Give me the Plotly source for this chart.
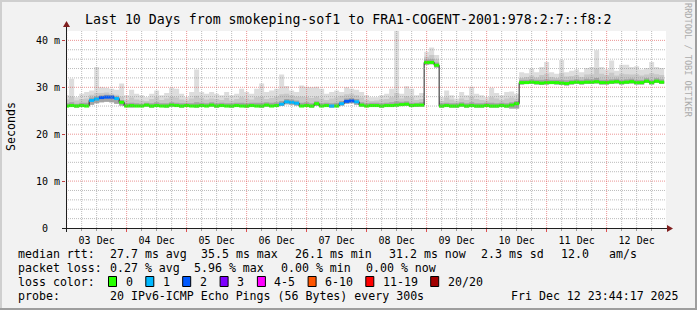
import pandas as pd
import plotly.graph_objects as go

# ---------------- data (ms), 2-hour consolidated steps ----------------
SAMPLE_START = "2025-12-02 23:00:00"
STEP = "2h"
RANGE_START = "2025-12-02 23:44:17"
RANGE_END = "2025-12-12 23:44:17"

median_ms = [
    26.0, 26.1, 26.0, 26.1, 26.0, 27.2, 27.5, 27.8, 27.9, 27.9, 27.6, 26.8,
    26.0, 26.1, 26.0, 26.0, 26.2, 26.0, 26.1, 26.0, 26.0, 26.2, 26.1, 26.0,
    26.1, 26.0, 26.0, 26.1, 26.0, 26.2, 26.0, 26.1, 26.0, 26.0, 26.1, 26.0,
    26.0, 26.1, 26.0, 26.0, 26.2, 26.0, 26.1, 26.4, 26.9, 26.8, 26.6, 26.0,
    26.1, 26.0, 26.5, 26.0, 26.1, 26.0, 26.0, 26.5, 27.0, 27.1, 26.9, 26.2,
    26.0, 26.1, 26.1, 26.0, 26.1, 26.1, 26.2, 26.3, 26.4, 26.1, 26.2, 26.2,
    35.3, 35.3, 34.7, 26.0, 26.1, 26.0, 26.0, 26.2, 26.0, 26.1, 26.0, 26.0,
    26.1, 26.0, 26.0, 26.1, 26.0, 26.2, 26.5, 31.0, 31.0, 31.1, 31.0, 30.9,
    31.0, 31.0, 31.0, 30.9, 30.8, 31.0, 31.1, 31.0, 31.1, 31.1, 31.2, 31.0,
    31.0, 31.1, 31.2, 31.0, 31.1, 31.2, 31.0, 31.0, 31.3, 31.0, 31.3, 31.1,
]

lost_pings = [
    0, 0, 0, 0, 0, 1, 1, 2, 2, 2, 1, 0,
    0, 0, 0, 0, 0, 0, 0, 0, 0, 0, 0, 0,
    0, 0, 0, 0, 0, 0, 0, 0, 0, 0, 0, 0,
    0, 0, 0, 0, 0, 0, 0, 1, 1, 1, 1, 0,
    0, 0, 0, 0, 0, 1, 0, 1, 2, 2, 1, 0,
    0, 0, 0, 0, 0, 0, 0, 0, 0, 0, 0, 0,
    0, 0, 0, 0, 0, 0, 0, 0, 0, 0, 0, 0,
    0, 0, 0, 0, 0, 0, 0, 0, 0, 0, 0, 0,
    0, 0, 0, 0, 0, 0, 0, 0, 0, 0, 0, 0,
    0, 0, 0, 0, 0, 0, 0, 0, 0, 0, 0, 0,
]

smoke_min = [
    25.8, 25.8, 25.7, 25.8, 25.8, 26.3, 26.6, 26.8, 26.9, 26.8, 26.5, 26.1,
    25.8, 25.7, 25.8, 25.8, 25.9, 25.7, 25.8, 25.8, 25.7, 25.9, 25.8, 25.7,
    25.8, 25.8, 25.7, 25.8, 25.8, 25.9, 25.7, 25.8, 25.8, 25.7, 25.8, 25.8,
    25.7, 25.8, 25.8, 25.7, 25.9, 25.8, 25.8, 26.0, 26.4, 26.3, 26.1, 25.8,
    25.8, 25.7, 26.0, 25.8, 25.8, 25.7, 25.8, 26.1, 26.5, 26.6, 26.3, 25.9,
    25.8, 25.8, 25.8, 25.7, 25.8, 25.8, 25.9, 26.0, 26.0, 25.8, 25.8, 25.9,
    34.8, 34.9, 34.2, 25.7, 25.8, 25.7, 25.7, 25.9, 25.7, 25.8, 25.7, 25.7,
    25.8, 25.7, 25.7, 25.8, 25.7, 25.5, 25.5, 30.6, 30.7, 30.7, 30.6, 30.5,
    30.6, 30.7, 30.6, 30.5, 30.4, 30.6, 30.7, 30.6, 30.7, 30.7, 30.8, 30.6,
    30.6, 30.7, 30.8, 30.6, 30.7, 30.8, 30.6, 30.6, 30.9, 30.6, 30.9, 30.7,
]

smoke_dark_top = [
    26.6, 26.8, 26.5, 26.7, 26.7, 27.8, 28.1, 28.3, 28.4, 28.3, 28.1, 27.3,
    26.6, 26.7, 26.6, 26.5, 26.7, 26.6, 26.8, 26.6, 26.6, 26.8, 26.7, 26.6,
    26.6, 26.6, 26.8, 26.7, 26.6, 26.8, 26.6, 26.7, 26.6, 26.6, 26.7, 26.7,
    26.6, 26.7, 26.7, 26.7, 26.8, 26.7, 26.8, 27.1, 27.5, 27.4, 27.2, 26.7,
    26.8, 26.6, 27.0, 26.6, 26.7, 26.6, 26.7, 27.1, 27.6, 27.7, 27.5, 26.8,
    26.6, 26.7, 26.7, 26.6, 26.7, 26.8, 27.0, 26.9, 27.0, 26.7, 26.7, 26.8,
    35.9, 36.0, 35.3, 26.6, 26.7, 26.6, 26.6, 26.8, 26.6, 26.8, 26.6, 26.6,
    26.7, 26.7, 26.6, 26.7, 26.6, 26.8, 27.1, 31.6, 31.6, 31.7, 31.6, 31.6,
    31.7, 31.6, 31.6, 31.6, 31.5, 31.6, 31.7, 31.6, 31.8, 31.7, 32.0, 31.6,
    31.6, 31.7, 31.8, 31.6, 31.7, 31.8, 31.6, 31.6, 31.9, 31.6, 31.9, 31.7,
]

smoke_mid_top = [
    27.4, 28.0, 27.2, 27.5, 27.6, 28.4, 28.8, 28.8, 28.9, 28.6, 28.4, 28.0,
    27.3, 27.8, 27.4, 27.2, 27.1, 27.5, 27.9, 27.3, 27.6, 28.0, 27.8, 27.4,
    27.2, 27.6, 28.2, 27.7, 27.4, 27.6, 27.5, 27.3, 27.7, 27.2, 27.5, 27.9,
    27.6, 27.4, 27.9, 28.0, 27.5, 27.7, 28.0, 28.5, 28.6, 28.3, 28.0, 28.0,
    27.9, 27.7, 28.0, 27.6, 27.3, 27.6, 27.8, 28.2, 28.5, 28.6, 28.3, 27.8,
    27.3, 27.1, 27.2, 27.4, 27.5, 27.9, 28.8, 27.6, 28.1, 27.8, 27.3, 27.5,
    36.5, 36.9, 36.0, 27.1, 27.8, 27.4, 27.0, 27.6, 27.3, 28.0, 27.5, 27.3,
    27.2, 27.9, 27.6, 27.3, 27.6, 27.8, 27.6, 32.0, 32.2, 32.5, 32.1, 32.6,
    32.9, 32.2, 32.0, 33.0, 32.3, 32.4, 32.6, 32.2, 32.7, 32.8, 34.0, 32.9,
    32.6, 33.1, 32.5, 32.9, 32.8, 32.7, 32.8, 32.5, 32.7, 33.0, 32.8, 32.6,
]

smoke_max = [
    28.3, 31.8, 27.9, 28.6, 29.0, 29.3, 34.3, 30.0, 29.9, 29.7, 29.5, 30.8,
    28.3, 29.5, 28.6, 28.3, 27.9, 28.6, 29.3, 28.3, 28.8, 29.9, 29.7, 28.6,
    27.9, 29.0, 33.8, 29.0, 28.6, 29.0, 28.6, 28.3, 29.0, 28.3, 28.6, 29.7,
    29.0, 28.6, 29.7, 30.8, 29.0, 29.3, 29.7, 32.7, 30.3, 29.3, 29.0, 30.4,
    30.1, 30.0, 30.1, 29.7, 28.6, 29.0, 29.3, 29.0, 30.0, 29.7, 29.5, 29.0,
    28.3, 27.9, 27.9, 28.3, 28.6, 29.7, 43.0, 28.6, 30.2, 29.7, 28.3, 28.8,
    37.6, 38.5, 36.9, 27.9, 29.3, 28.3, 27.6, 29.0, 28.3, 30.1, 28.6, 28.3,
    27.9, 29.9, 28.8, 28.3, 29.0, 29.1, 28.6, 33.2, 33.0, 34.0, 33.2, 34.3,
    35.4, 33.2, 32.9, 35.8, 33.2, 33.5, 33.8, 33.2, 34.1, 34.3, 37.9, 34.3,
    33.8, 35.7, 33.5, 34.8, 34.8, 34.3, 34.5, 33.8, 34.1, 35.4, 34.3, 34.1,
]

loss_labels = ["0", "1", "2", "3", "4-5", "6-10", "11-19", "20/20"]
loss_low = [0, 1, 2, 3, 4, 6, 11, 20]
loss_high = [0, 1, 2, 3, 5, 10, 19, 20]
loss_colors = ["#26FF00", "#00B8FF", "#0059FF", "#7E00FF",
               "#FF00FF", "#FF5500", "#FF0000", "#A10000"]

y_tickvals = [0, 10, 20, 30, 40]
y_ticktext = ["0\u00a0\u00a0", "10 m", "20 m", "30 m", "40 m"]

title_text = "Last 10 Days from smokeping-sof1 to FRA1-COGENT-2001:978:2:7::f8:2"
rtt_parts = ["median rtt:", "27.7 ms avg", "35.5 ms max", "26.1 ms min",
             "31.2 ms now", "2.3 ms sd", "12.0", "am/s"]
loss_parts = ["packet loss:", "0.27 % avg", "5.96 % max", "0.00 % min", "0.00 % now"]
probe_parts = ["probe:", "20 IPv6-ICMP Echo Pings (56 Bytes) every 300s"]
date_text = "Fri Dec 12 23:44:17 2025"

# ---------------- layout geometry (pixels) ----------------
W, H = 697, 310
L, R, T, B = 66, 31, 31, 82
PW, PH = W - L - R, H - T - B
BASE = H - B


def X(px):
    return (px - L) / PW


def Y(py):
    return (BASE - py) / PH


MONO = "DejaVu Sans Mono"

times = pd.date_range(SAMPLE_START, periods=len(median_ms) + 1, freq=STEP)


def stepped(v):
    return list(v) + [v[-1]]


fig = go.Figure()

# smoke layers
for top, col in [(smoke_max, "#DDDDDD"), (smoke_mid_top, "#C8C8C8"), (smoke_dark_top, "#A4A4A4")]:
    fig.add_trace(go.Scatter(x=times, y=stepped(smoke_min), mode="lines",
                             line=dict(width=0, shape="hv"), hoverinfo="skip", showlegend=False))
    fig.add_trace(go.Scatter(x=times, y=stepped(top), mode="lines", fill="tonexty",
                             fillcolor=col, line=dict(width=0, shape="hv"),
                             hoverinfo="skip", showlegend=False))

# black median line
fig.add_trace(go.Scatter(x=times, y=stepped(median_ms), mode="lines",
                         line=dict(width=1, color="#202020", shape="hv"),
                         hoverinfo="skip", showlegend=False))

# coloured median bands by loss bucket (horizontal only)
for lo, hi, col in zip(loss_low, loss_high, loss_colors):
    xs, ys = [], []
    for i, (m, lp) in enumerate(zip(median_ms, lost_pings)):
        if lo <= lp <= hi:
            xs += [times[i], times[i + 1], None]
            ys += [m, m, None]
    if xs:
        fig.add_trace(go.Scatter(x=xs, y=ys, mode="lines",
                                 line=dict(width=3, color=col),
                                 hoverinfo="skip", showlegend=False))

shapes = []
# grid (drawn on top like rrdtool)
for t in pd.date_range("2025-12-03 00:00", "2025-12-12 18:00", freq="6h"):
    major = t.hour == 0
    shapes.append(dict(type="line", xref="x", yref="paper", x0=t, x1=t, y0=0, y1=1,
                       layer="above",
                       line=dict(width=1, dash="1px,1px",
                                 color="rgba(222,79,79,0.6)" if major else "rgba(143,143,143,0.6)")))
for v in range(2, 42, 2):
    major = v % 10 == 0
    shapes.append(dict(type="line", xref="paper", yref="y", x0=0, x1=1, y0=v, y1=v,
                       layer="above",
                       line=dict(width=1, dash="1px,1px",
                                 color="rgba(222,79,79,0.6)" if major else "rgba(143,143,143,0.6)")))

# axes lines and arrows
AX = "#1F1F1F"
ARROW = "#801F1F"
shapes.append(dict(type="line", xref="paper", yref="paper", x0=X(62), x1=X(668),
                   y0=Y(228.5), y1=Y(228.5), layer="above", line=dict(width=1, color=AX)))
shapes.append(dict(type="line", xref="paper", yref="paper", x0=X(66.5), x1=X(66.5),
                   y0=Y(232), y1=Y(25), layer="above", line=dict(width=1, color=AX)))
shapes.append(dict(type="path", xref="paper", yref="paper", layer="above",
                   path=f"M {X(667)},{Y(225)} L {X(673)},{Y(228.5)} L {X(667)},{Y(232)} Z",
                   fillcolor=ARROW, line=dict(width=0)))
shapes.append(dict(type="path", xref="paper", yref="paper", layer="above",
                   path=f"M {X(63)},{Y(27)} L {X(66.5)},{Y(21)} L {X(70)},{Y(27)} Z",
                   fillcolor=ARROW, line=dict(width=0)))

# frame
shapes += [
    dict(type="rect", xref="paper", yref="paper", x0=X(0), x1=X(697), y0=Y(0), y1=Y(2),
         fillcolor="#CFCFCF", line=dict(width=0)),
    dict(type="rect", xref="paper", yref="paper", x0=X(0), x1=X(2), y0=Y(0), y1=Y(310),
         fillcolor="#CFCFCF", line=dict(width=0)),
    dict(type="rect", xref="paper", yref="paper", x0=X(0), x1=X(697), y0=Y(308), y1=Y(310),
         fillcolor="#9E9E9E", line=dict(width=0)),
    dict(type="rect", xref="paper", yref="paper", x0=X(695), x1=X(697), y0=Y(0), y1=Y(310),
         fillcolor="#9E9E9E", line=dict(width=0)),
]

annotations = []


def txt(s, px, py, size=11.6, xanchor="left", color="#000000", angle=0):
    annotations.append(dict(text=s, x=X(px), y=Y(py), xref="paper", yref="paper",
                            xanchor=xanchor, yanchor="middle", showarrow=False,
                            textangle=angle,
                            font=dict(family=MONO, size=size, color=color)))


txt(title_text, 348, 19, size=13.25, xanchor="center")
txt("Seconds", 11, 127, xanchor="center", angle=-90)
txt("RRDTOOL / TOBI OETIKER", 688, 60, size=8.6, xanchor="center", color="#ABABAB", angle=90)

rtt_x = [16.4, 107.6, 199, 293, 386.7, 479, 559, 606.7]
for s, px in zip(rtt_parts, rtt_x):
    txt(s, px, 254)
loss_x = [16.4, 107.6, 192.4, 279, 364.4]
for s, px in zip(loss_parts, loss_x):
    txt(s, px, 268)
txt("loss color:", 16.4, 282)
box_x = [108, 145.3, 182.2, 219.6, 256.9, 307.6, 365.3, 430.2]
for lab, bx, col in zip(loss_labels, box_x, loss_colors):
    shapes.append(dict(type="rect", xref="paper", yref="paper", x0=X(bx + 0.5), x1=X(bx + 8.5),
                       y0=Y(276.5), y1=Y(286.5), fillcolor=col,
                       line=dict(width=1, color="#000000")))
    txt(lab, bx + 15.5, 282)
txt(probe_parts[0], 16.4, 296)
txt(probe_parts[1], 107.6, 296)
txt(date_text, 680.5, 296, xanchor="right")

fig.update_layout(
    width=W, height=H, autosize=False,
    margin=dict(l=L, r=R, t=T, b=B, pad=0),
    paper_bgcolor="#F2F2F2", plot_bgcolor="#FFFFFF",
    showlegend=False, hovermode=False,
    shapes=shapes, annotations=annotations,
    xaxis=dict(type="date", range=[RANGE_START, RANGE_END], tick0="2025-12-03",
               dtick=86400000, ticklabelmode="period", tickformat="%d %b",
               ticks="outside", ticklen=3, tickcolor="#DE4F4F", tickwidth=1,
               minor=dict(dtick=6 * 3600000, ticks="outside", ticklen=2,
                          tickcolor="#9A9A9A", showgrid=False),
               showgrid=False, zeroline=False, showline=False,
               tickfont=dict(family=MONO, size=10, color="#000000"), fixedrange=True),
    yaxis=dict(range=[0, 42], tickvals=y_tickvals, ticktext=y_ticktext,
               ticks="outside", ticklen=3, tickcolor="#C04040", tickwidth=1,
               showgrid=False, zeroline=False, showline=False,
               tickfont=dict(family=MONO, size=10, color="#000000"), fixedrange=True),
)

fig.write_html("out.html", config={"displayModeBar": False, "staticPlot": True})
